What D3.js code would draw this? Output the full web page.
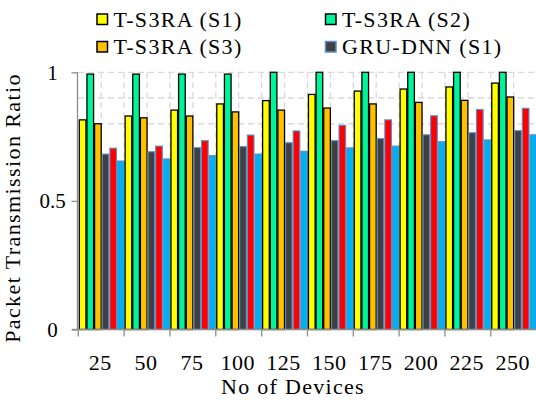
<!DOCTYPE html>
<html>
<head>
<meta charset="utf-8">
<script src="https://cdn.jsdelivr.net/npm/d3@7"></script>
<style>
html,body{margin:0;padding:0;background:#fff;overflow:hidden;}
svg{display:block;}
text{font-family:"Liberation Serif","Times New Roman",serif;fill:#000;}
</style>
</head>
<body>
<div id="chart"></div>
<script>
const categories = ["25","50","75","100","125","150","175","200","225","250"];
const seriesNames = ["T-S3RA (S1)","T-S3RA (S2)","T-S3RA (S3)","GRU-DNN (S1)","GRU-DNN (S2)","GRU-DNN (S3)"];
const legendNames = ["T-S3RA (S1)","T-S3RA (S2)","T-S3RA (S3)","GRU-DNN (S1)"];
const tS3raS1 = [0.815,0.830,0.853,0.877,0.890,0.914,0.927,0.935,0.943,0.958];
const tS3raS2 = [0.993,0.993,0.993,0.993,1.000,1.000,1.000,1.000,1.000,1.000];
const tS3raS3 = [0.800,0.823,0.830,0.846,0.853,0.861,0.877,0.883,0.891,0.904];
const gruS1   = [0.682,0.691,0.707,0.711,0.726,0.734,0.742,0.757,0.765,0.773];
const gruS2   = [0.705,0.713,0.734,0.756,0.772,0.794,0.815,0.831,0.855,0.860];
const gruS3   = [0.655,0.663,0.676,0.682,0.693,0.706,0.713,0.730,0.737,0.757];
const yTicks = [0, 0.5, 1];
const yGrid = [0.8, 0.9, 1];

const values = [tS3raS1, tS3raS2, tS3raS3, gruS1, gruS2, gruS3];
const fills = ["#ffff00","#00f59b","#ffc000","#404040","#ff0000","#00b0f0"];
const strokes = ["#000","#000","#000","#5b8fc9","#5b8fc9","#5b8fc9"];

const W = 536, H = 400;
const svg = d3.select("#chart").append("svg").attr("width", W).attr("height", H);

const x = d3.scaleBand().domain(categories).range([78.3, 536.6]).paddingInner(0).paddingOuter(0);
const xs = d3.scaleBand().domain(seriesNames).range([0, x.bandwidth()]).padding(0);
const y = d3.scaleLinear().domain([0, 1]).range([329.5, 72.3]);

// gridlines
const grid = svg.append("g");
grid.selectAll("line.h").data(yGrid).join("line")
  .attr("x1", 78).attr("x2", W).attr("y1", d => y(d)).attr("y2", d => y(d))
  .attr("stroke", "#d9d9d9").attr("stroke-width", 1.3).attr("stroke-dasharray", "6,4");
const vpos = [];
categories.forEach(c => { vpos.push(x(c)); vpos.push(x(c) + x.bandwidth() / 2); });
grid.selectAll("line.v").data(vpos.filter(p => p > 80)).join("line")
  .attr("x1", d => d).attr("x2", d => d).attr("y1", y(1)).attr("y2", y(0))
  .attr("stroke", "#d9d9d9").attr("stroke-width", 1.3).attr("stroke-dasharray", "6,4");

// bars
const rows = [];
categories.forEach((c, i) => seriesNames.forEach((s, k) => rows.push({c, s, k, v: values[k][i]})));
svg.append("g").selectAll("rect").data(rows).join("rect")
  .attr("x", d => x(d.c) + xs(d.s) + 1)
  .attr("y", d => y(d.v))
  .attr("width", xs.bandwidth() - 1)
  .attr("height", d => y(0) - y(d.v))
  .attr("fill", d => fills[d.k])
  .attr("stroke", d => strokes[d.k])
  .attr("stroke-width", d => d.k < 3 ? 1.3 : 1.1);

// axes
const xAxis = svg.append("g").attr("transform", `translate(0,${y(0)})`)
  .call(d3.axisBottom(x).tickSize(0).tickPadding(0).tickFormat(""));
xAxis.select(".domain").remove();
xAxis.append("line").attr("x1", 72).attr("x2", W).attr("y1", 0).attr("y2", 0)
  .attr("stroke", "#8c8c8c").attr("stroke-width", 1.3);
xAxis.selectAll("line.edge").data(categories).join("line").attr("class","edge")
  .attr("x1", d => x(d)).attr("x2", d => x(d)).attr("y1", 0).attr("y2", 7)
  .attr("stroke", "#8c8c8c").attr("stroke-width", 1.3);
xAxis.selectAll("text.lab").data(categories).join("text").attr("class","lab")
  .attr("x", d => x(d) + x.bandwidth() / 2 - 1).attr("y", 40)
  .attr("text-anchor", "middle").attr("font-size", 22).attr("letter-spacing", 0.5).text(d => d);

const yAxis = svg.append("g").attr("transform", "translate(77.5,0)")
  .call(d3.axisLeft(y).tickValues(yTicks).tickSize(6).tickPadding(0).tickFormat(d3.format("~g")));
yAxis.select(".domain").attr("stroke", "#8c8c8c").attr("stroke-width", 1.3).attr("d", `M0,${y(1)}V${y(0)}`);
yAxis.selectAll(".tick line").attr("stroke", "#8c8c8c").attr("stroke-width", 1.3);
yAxis.selectAll(".tick text").attr("font-size", 21).attr("font-family", "Liberation Serif")
  .attr("text-anchor", "middle").attr("x", -25).attr("dy", "0.33em").attr("fill", "#000");

// axis titles
svg.append("text").attr("x", 293).attr("y", 394).attr("text-anchor", "middle")
  .attr("font-size", 22).attr("letter-spacing", 1.3).text("No of Devices");
svg.append("text").attr("transform", "translate(20,208) rotate(-90)").attr("text-anchor", "middle")
  .attr("font-size", 22).attr("letter-spacing", 1.4).text("Packet Transmission Ratio");

// legend
const legPos = [[97, 14], [325.5, 14], [97, 41.5], [325.5, 41.5]];
const leg = svg.append("g");
legendNames.forEach((n, i) => {
  const k = seriesNames.indexOf(n);
  const [lx, ly] = legPos[i];
  leg.append("rect").attr("x", lx).attr("y", ly).attr("width", 10.5).attr("height", 10.5)
    .attr("fill", fills[k]).attr("stroke", k >= 3 ? "#5b8fc9" : "#000").attr("stroke-width", 1.5);
  leg.append("text").attr("x", lx + 16.5).attr("y", ly + 12.8).attr("font-size", 22)
    .attr("letter-spacing", 1.3).text(n);
});
</script>
</body>
</html>
